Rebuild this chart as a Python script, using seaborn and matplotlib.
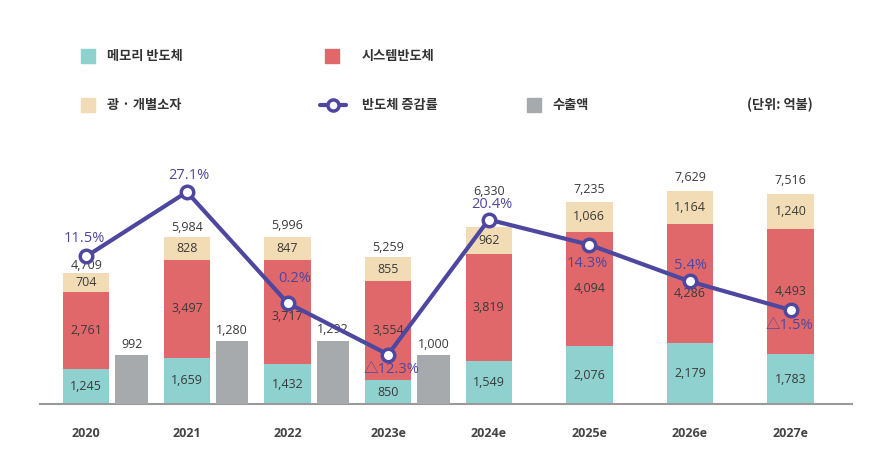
import numpy as np
import pandas as pd
import matplotlib.pyplot as plt
import seaborn as sns
from matplotlib.patches import Rectangle
from matplotlib.lines import Line2D

# 데이터 (단위: 억불)
anos = ['2020', '2021', '2022', '2023e', '2024e', '2025e', '2026e', '2027e']
memoria = [1245, 1659, 1432, 850, 1549, 2076, 2179, 1783]
sistema = [2761, 3497, 3717, 3554, 3819, 4094, 4286, 4493]
discreto = [704, 828, 847, 855, 962, 1066, 1164, 1240]
totais = [4709, 5984, 5996, 5259, 6330, 7235, 7629, 7516]
exportacao = [992, 1280, 1292, 1000]
crescimento = [11.5, 27.1, 0.2, -12.3, 20.4, 14.3, 5.4, -1.5]

# cores
C_MEM = '#8ED1CE'
C_SIS = '#E0686B'
C_DIS = '#F2DCB6'
C_EXP = '#A6AAAD'
C_LIN = '#4E479F'
C_TXT = '#3A3A3A'
NUM = ['Open Sans', 'Noto Sans CJK KR', 'DejaVu Sans']

sns.set_theme(style='white')
plt.rcParams['font.family'] = ['Noto Sans CJK KR', 'DejaVu Sans']

W, H = 870, 474
fig = plt.figure(figsize=(W / 100, H / 100), dpi=100)
ax = fig.add_axes([40 / W, 70 / H, 812 / W, 264 / H])

x = np.arange(len(anos))
df = pd.DataFrame({'x': x, 'memoria': memoria, 'sistema': sistema, 'discreto': discreto})
df['cum2'] = df['memoria'] + df['sistema']
df['cum3'] = df['cum2'] + df['discreto']

# barras empilhadas (de tras para frente)
for col, cor in [('cum3', C_DIS), ('cum2', C_SIS), ('memoria', C_MEM)]:
    sns.barplot(data=df, x='x', y=col, native_scale=True, width=0.46, color=cor,
                saturation=1, linewidth=0, errorbar=None, ax=ax)

# rotulos dentro das barras
desloc_sis = [0, 0, -4, 0, 0, 0, -10, 0]
for i in range(len(anos)):
    m, s, d = memoria[i], sistema[i], discreto[i]
    ax.text(x[i], m / 2, f'{m:,}', ha='center', va='center', fontsize=9, color=C_TXT, family=NUM)
    ax.annotate(f'{s:,}', (x[i], m + s / 2), xytext=(0, desloc_sis[i] * 0.72),
                textcoords='offset points', ha='center', va='center', fontsize=9,
                color=C_TXT, family=NUM)
    ax.text(x[i], m + s + d / 2, f'{d:,}', ha='center', va='center', fontsize=9,
            color=C_TXT, family=NUM)

desloc_tot = [7, 10, 11, 10, 36, 13, 14, 14]
for i in range(len(anos)):
    topo = df['cum3'][i]
    ax.annotate(f'{totais[i]:,}', (x[i], topo), xytext=(0, desloc_tot[i] * 0.72),
                textcoords='offset points', ha='center', va='center', fontsize=9,
                color=C_TXT, family=NUM)

ax.set_ylim(0, 9460)
ax.set_ylabel('')
ax.set_xlabel('')
ax.set_yticks([])
for lado in ['top', 'left', 'right']:
    ax.spines[lado].set_visible(False)
ax.spines['bottom'].set_color('#9A9A9A')
ax.spines['bottom'].set_linewidth(1.5)

# exportacao (escala propria)
ax3 = ax.twinx()
ex = pd.DataFrame({'x': x[:len(exportacao)] + 0.45, 'exportacao': exportacao})
sns.barplot(data=ex, x='x', y='exportacao', native_scale=True, width=0.32, color=C_EXP,
            saturation=1, linewidth=0, errorbar=None, ax=ax3)
for xi, v in zip(ex['x'], exportacao):
    ax3.annotate(f'{v:,}', (xi, v), xytext=(0, 11 * 0.72), textcoords='offset points',
                 ha='center', va='center', fontsize=9, color=C_TXT, family=NUM)
ax3.set_ylim(0, 5390)
ax3.axis('off')

# linha de crescimento
ax2 = ax.twinx()
sns.lineplot(x=x, y=crescimento, ax=ax2, color=C_LIN, linewidth=3, marker='o',
             markersize=9, markerfacecolor='white', markeredgecolor=C_LIN, markeredgewidth=2.5)
desloc_pct = [(-2, 18), (2, 16), (7, 24), (3, -15), (3, 15), (-2, -19), (0, 16), (-1, -16)]
for i, g in enumerate(crescimento):
    rot = f'△{abs(g)}%' if g < 0 else f'{g}%'
    dx, dy = desloc_pct[i]
    ax2.annotate(rot, (x[i], g), xytext=(dx * 0.72, dy * 0.72), textcoords='offset points',
                 ha='center', va='center', fontsize=10.5, color=C_LIN, family=NUM)
ax2.set_ylim(-24.3, 39.7)
ax2.axis('off')

ax.set_xticks(x)
ax.set_xticklabels(anos, fontweight='bold', fontsize=9, color='#444444', family=NUM)
ax.tick_params(axis='x', length=0, pad=16.5)
ax.set_xlim(-0.46, 7.61)

# legenda manual
def fx(px):
    return px / W

def fy(py):
    return 1 - py / H

quadrados = [(81, 49, C_MEM), (325, 49, C_SIS), (81, 98, C_DIS), (527, 98, C_EXP)]
for px, py, cor in quadrados:
    fig.add_artist(Rectangle((fx(px), fy(py + 14)), 14 / W, 14 / H, color=cor,
                             transform=fig.transFigure))
fig.add_artist(Line2D([fx(320), fx(346)], [fy(105), fy(105)], color=C_LIN, linewidth=3,
                      transform=fig.transFigure))
fig.add_artist(Line2D([fx(333)], [fy(105)], color=C_LIN, marker='o', markersize=8,
                      markerfacecolor='white', markeredgewidth=2.5, transform=fig.transFigure))
textos = [(107, 56, '메모리 반도체'), (362, 56, '시스템반도체'), (107, 105, '광 · 개별소자'),
          (362, 105, '반도체 증감률'), (552, 105, '수출액'), (747, 105, '(단위: 억불)')]
for px, py, t in textos:
    fig.text(fx(px), fy(py), t, ha='left', va='center', fontsize=9.5, fontweight='bold',
             color='#333333')

fig.savefig('out.png', dpi=100)
